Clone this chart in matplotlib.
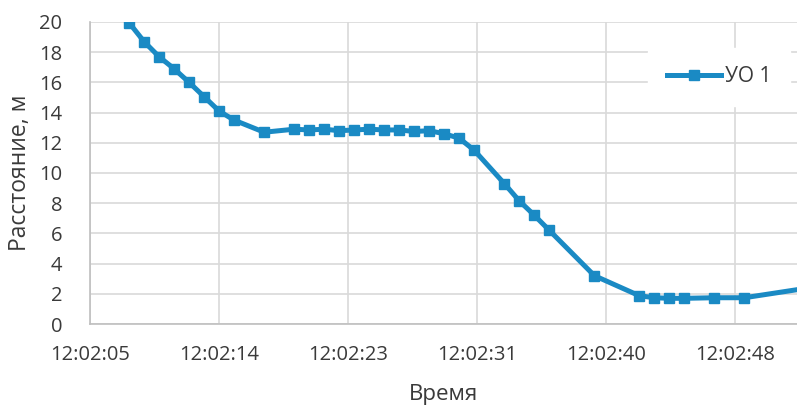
import matplotlib
matplotlib.use('Agg')
import matplotlib.pyplot as plt

# seconds after 12:02:00
seconds = [8, 9, 10, 11, 12, 13, 14, 15, 17, 19, 20, 21, 22, 23, 24, 25, 26,
           27, 28, 29, 30, 31, 33, 34, 35, 36, 39, 42, 43, 44, 45, 47, 49, 54]
distance = [19.95, 18.7, 17.7, 16.9, 16.0, 15.05, 14.1, 13.5, 12.7, 12.9, 12.85,
            12.9, 12.8, 12.85, 12.9, 12.85, 12.85, 12.75, 12.8, 12.6, 12.3, 11.5,
            9.3, 8.15, 7.2, 6.2, 3.2, 1.87, 1.74, 1.7, 1.7, 1.74, 1.74, 2.5]
tick_labels = ['12:02:05', '12:02:14', '12:02:23', '12:02:31', '12:02:40', '12:02:48']
series_name = 'УО 1'

plt.rcParams['font.family'] = ['Open Sans', 'DejaVu Sans']
color = '#1a8ac4'
grid_color = '#d9d9d9'
text_color = '#3a3a3a'

fig = plt.figure(figsize=(7.97, 4.05), dpi=100)
ax = fig.add_axes([0.113, 0.2, 0.887, 0.7457])

ax.plot(seconds, distance, color=color, lw=3.6, marker='s', markersize=6.5,
        label=series_name, solid_joinstyle='round', clip_on=True)

tick_pos = [5.4 + 8.6 * i for i in range(len(tick_labels))]
ax.set_xticks(tick_pos)
ax.set_xticklabels(tick_labels)
ax.set_xlim(5.4, 52.5)
ax.set_ylim(0, 20)
ax.set_yticks(range(0, 21, 2))

ax.grid(True, color=grid_color, lw=1.2)
ax.set_axisbelow(True)
for side in ['top', 'right']:
    ax.spines[side].set_visible(False)
for side in ['left', 'bottom']:
    ax.spines[side].set_color('#bfbfbf')
    ax.spines[side].set_linewidth(1.2)

ax.tick_params(axis='both', length=0, labelsize=14.5, colors=text_color)
ax.tick_params(axis='x', pad=15)
ax.tick_params(axis='y', pad=20)

ax.set_xlabel('Время', fontsize=16, color=text_color, labelpad=14)
ax.set_ylabel('Расстояние, м', fontsize=16.5, color=text_color, labelpad=5)

leg = ax.legend(loc='upper right', bbox_to_anchor=(1.005, 0.95), frameon=True,
                fontsize=15, handlelength=2.6, borderpad=0.9, handletextpad=0.2)
leg.get_frame().set_edgecolor('white')
leg.get_frame().set_facecolor('white')
leg.get_frame().set_alpha(1)
for t in leg.get_texts():
    t.set_color(text_color)

fig.savefig('out.png', dpi=100)
